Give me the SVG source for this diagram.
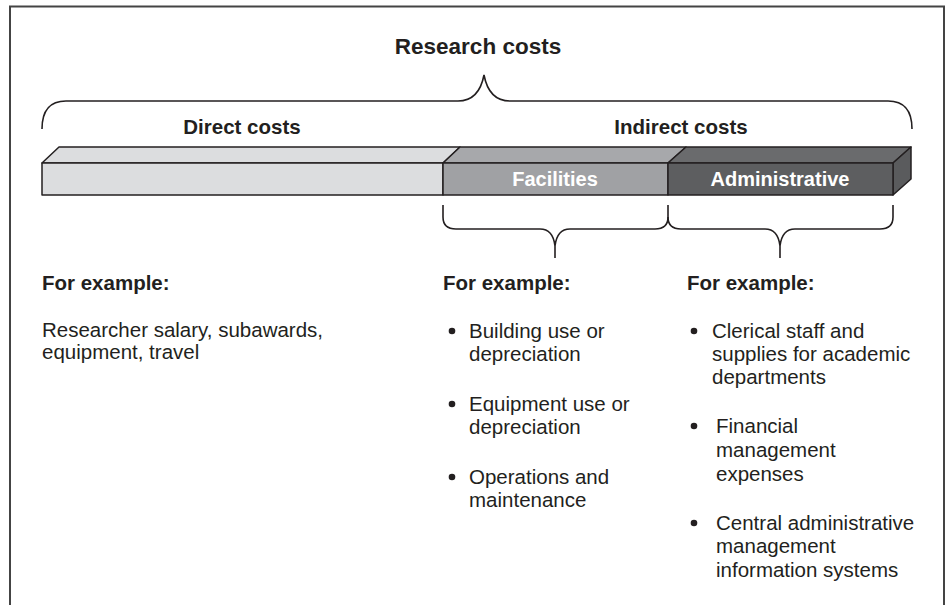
<svg xmlns="http://www.w3.org/2000/svg" width="949" height="605" viewBox="0 0 949 605">
<style>
text{font-family:"Liberation Sans",Arial,sans-serif;fill:#231f20}
.b{font-weight:bold;font-size:20.5px}
.r{font-size:20.5px}
.w{fill:#fff;font-weight:bold;font-size:20px}
.ln{fill:none;stroke:#231f20;stroke-width:1.6}
.bx{stroke:#231f20;stroke-width:1.5;stroke-linejoin:round}
</style>
<rect width="949" height="605" fill="#fff"/>
<path d="M10,605 L10,6.5 L944,6.5 L944,605" fill="none" stroke="#444" stroke-width="2"/>
<g id="title"><text x="478" y="54" class="b" style="font-size:22.5px" text-anchor="middle">Research costs</text></g>
<g id="connectors">
<path class="ln" d="M42,129 Q42,101 66,101 L458,101 Q479,101 484,75 Q489,101 510,101 L888,101 Q912,101 912,129"/>
<path class="ln" d="M443,205 L443,217 Q443,229 456,229 L540,229 Q553,229 555,246 L555,258 M555,246 Q557,229 570,229 L655,229 Q668,229 668,217 L668,205"/>
<path class="ln" d="M668,217 Q668,229 681,229 L765,229 Q778,229 780,246 L780,258 M780,246 Q782,229 795,229 L880,229 Q893,229 893,217 L893,205"/>
</g>
<g id="direct">
<text x="242" y="134" class="b" text-anchor="middle">Direct costs</text>
<polygon class="bx" points="42,163 59,147 460,147 443,163" fill="#dcdddf"/>
<rect class="bx" x="42" y="163" width="401" height="32" fill="#dcdddf"/>
</g>
<g id="indirect"><text x="681" y="134" class="b" text-anchor="middle">Indirect costs</text></g>
<g id="facilities">
<polygon class="bx" points="443,163 460,147 686,147 668,163" fill="#a7a8ab"/>
<rect class="bx" x="443" y="163" width="225" height="32" fill="#a0a1a4"/>
<text x="555" y="186" class="w" text-anchor="middle">Facilities</text>
</g>
<g id="administrative">
<polygon class="bx" points="668,163 686,147 911,147 893,163" fill="#6a6b6d"/>
<polygon class="bx" points="893,163 911,147 911,179 893,195" fill="#5a5b5d"/>
<rect class="bx" x="668" y="163" width="225" height="32" fill="#5d5e60"/>
<text x="780" y="186" class="w" text-anchor="middle">Administrative</text>
</g>
<g id="direct-examples">
<text x="42" y="290" class="b">For example:</text>
<text class="r"><tspan x="42" y="337">Researcher salary, subawards,</tspan><tspan x="42" y="359">equipment, travel</tspan></text>
</g>
<g id="facilities-examples">
<text x="443" y="290" class="b">For example:</text>
<circle cx="452" cy="331" r="3.3" fill="#231f20"/>
<circle cx="452" cy="404" r="3.3" fill="#231f20"/>
<circle cx="452" cy="477" r="3.3" fill="#231f20"/>
<text class="r"><tspan x="469" y="338">Building use or</tspan><tspan x="469" y="361">depreciation</tspan></text>
<text class="r"><tspan x="469" y="411">Equipment use or</tspan><tspan x="469" y="434">depreciation</tspan></text>
<text class="r"><tspan x="469" y="484">Operations and</tspan><tspan x="469" y="507">maintenance</tspan></text>
</g>
<g id="administrative-examples">
<text x="687" y="290" class="b">For example:</text>
<circle cx="694" cy="331" r="3.3" fill="#231f20"/>
<circle cx="694" cy="426" r="3.3" fill="#231f20"/>
<circle cx="694" cy="523" r="3.3" fill="#231f20"/>
<text class="r"><tspan x="712" y="338">Clerical staff and</tspan><tspan x="712" y="361">supplies for academic</tspan><tspan x="712" y="384">departments</tspan></text>
<text class="r"><tspan x="716" y="433">Financial</tspan><tspan x="716" y="457">management</tspan><tspan x="716" y="481">expenses</tspan></text>
<text class="r"><tspan x="716" y="530">Central administrative</tspan><tspan x="716" y="553">management</tspan><tspan x="716" y="577">information systems</tspan></text>
</g>
</svg>
